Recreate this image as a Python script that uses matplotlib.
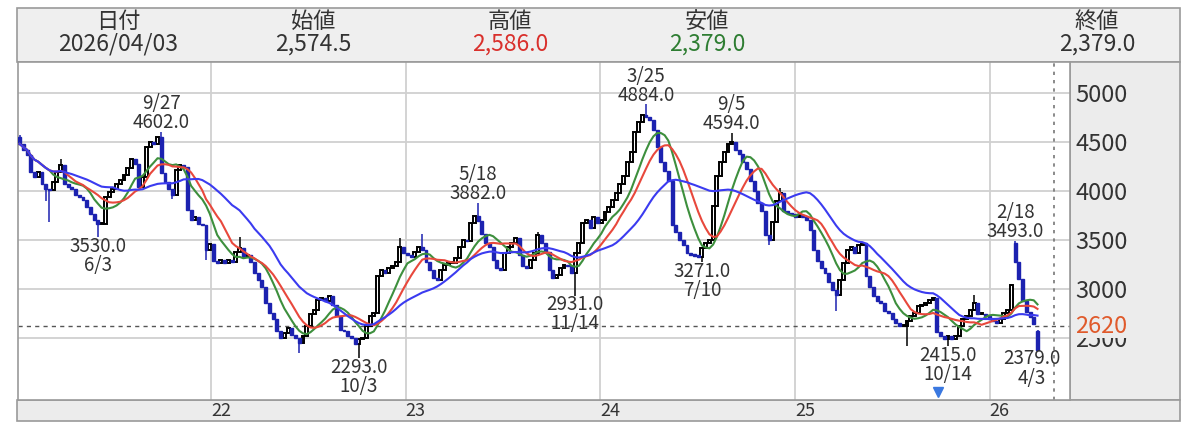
import numpy as np
import pandas as pd
import matplotlib
matplotlib.use('Agg')
import matplotlib.pyplot as plt
import matplotlib.dates as mdates
import matplotlib.transforms as mtrans
from matplotlib.patches import Rectangle

plt.rcParams['font.family'] = ['Noto Sans CJK JP', 'DejaVu Sans']

# weekly closes (weeks start on Monday), one list per year
close_2021 = [4480, 4415, 4365, 4195, 4140, 4195, 4075, 4025, 4010, 4090, 4195, 4260, 4075,
              4040, 4025, 3955, 3940, 3905, 3835, 3770, 3700, 3665, 3665, 3940, 3990, 4025,
              4075, 4110, 4160, 4230, 4330, 4280, 4040, 4145, 4450, 4500, 4480, 4550, 4180,
              4090, 4025, 3955, 4210, 4260, 4245, 3805, 3700, 3735, 3665, 3650, 3395, 3460]
close_2022 = [3290, 3260, 3300, 3265, 3300, 3280, 3380, 3415, 3330, 3350, 3280, 3160, 3095,
              3025, 2860, 2755, 2690, 2570, 2500, 2555, 2605, 2535, 2500, 2450, 2520, 2620,
              2740, 2790, 2890, 2910, 2875, 2925, 2840, 2720, 2585, 2570, 2520, 2500, 2435,
              2485, 2500, 2620, 2720, 2755, 3130, 3195, 3160, 3210, 3230, 3280, 3430, 3365]
close_2023 = [3350, 3330, 3380, 3430, 3400, 3280, 3195, 3110, 3095, 3195, 3245, 3265, 3265,
              3315, 3430, 3500, 3485, 3670, 3740, 3690, 3560, 3465, 3430, 3300, 3210, 3195,
              3365, 3430, 3465, 3515, 3345, 3230, 3210, 3300, 3365, 3550, 3465, 3380, 3195,
              3110, 3145, 3210, 3245, 3230, 3160, 3365, 3465, 3670, 3700, 3620, 3735, 3670]
close_2024 = [3700, 3785, 3840, 3905, 3975, 4075, 4150, 4300, 4400, 4600, 4700, 4780, 4750,
              4720, 4620, 4450, 4300, 4200, 4100, 3650, 3580, 3500, 3450, 3370, 3350, 3340,
              3330, 3420, 3470, 3500, 3850, 4150, 4300, 4400, 4480, 4500, 4420, 4380, 4300,
              4220, 4100, 4000, 3880, 3800, 3550, 3500, 3680, 3900, 3980, 3800, 3780, 3760, 3735]
close_2025 = [3750, 3735, 3700, 3600, 3395, 3290, 3210, 3160, 3070, 2990, 2935, 3090, 3260,
              3395, 3430, 3365, 3450, 3465, 3130, 3025, 2925, 2875, 2860, 2775, 2755, 2690,
              2655, 2620, 2620, 2670, 2720, 2755, 2825, 2840, 2860, 2890, 2910, 2560, 2520,
              2485, 2520, 2485, 2520, 2620, 2690, 2720, 2790, 2860, 2740, 2740, 2720, 2690]
close_2026 = [2670, 2655, 2690, 2755, 2790, 3045, 3280, 3100, 2880, 2760, 2710, 2640, 2379]
first_week = '2021-01-04'
first_open = 4550

open_dates = ['2026-02-16', '2026-03-30']
open_values = [3470, 2574.5]
high_dates = ['2021-01-04', '2021-03-22', '2021-09-27', '2022-02-21', '2022-12-19',
              '2023-01-30', '2023-05-15', '2023-09-04', '2024-03-25', '2024-09-02',
              '2024-12-02', '2025-12-01', '2026-02-16', '2026-03-30']
high_values = [4570, 4330, 4602, 3530, 3520, 3560, 3882, 3580, 4884, 4594, 4030, 2940,
               3493, 2586]
low_dates = ['2021-02-22', '2021-03-01', '2021-05-31', '2021-10-18', '2021-12-20', '2022-06-13',
             '2022-10-03', '2023-11-13', '2024-07-08', '2024-11-11', '2025-03-17', '2025-07-28',
             '2025-10-13', '2026-03-30']
low_values = [3900, 3680, 3530, 3920, 3300, 2350, 2293, 2931, 3271, 3450, 2780, 2420,
              2415, 2379]

# labelled highs / lows: (top line, bottom line, week, side)
notes = [('9/27', '4602.0', '2021-09-27', 'high'), ('3530.0', '6/3', '2021-05-31', 'low'),
         ('2293.0', '10/3', '2022-10-03', 'low'), ('5/18', '3882.0', '2023-05-15', 'high'),
         ('2931.0', '11/14', '2023-11-13', 'low'), ('3/25', '4884.0', '2024-03-25', 'high'),
         ('3271.0', '7/10', '2024-07-08', 'low'), ('9/5', '4594.0', '2024-09-02', 'high'),
         ('2415.0', '10/14', '2025-10-13', 'low'), ('2/18', '3493.0', '2026-02-16', 'high'),
         ('2379.0', '4/3', '2026-03-30', 'low')]
event_date = '2025-09-26'
ref_price = 2620
ma_windows = [9, 13, 26]
ma_colors = ['#3d8f3d', '#e8483c', '#3b3bf0']

header_labels = ['日付', '始値', '高値', '安値', '終値']
header_values = ['2026/04/03', '2,574.5', '2,586.0', '2,379.0', '2,379.0']
header_colors = ['#333333', '#333333', '#d9302c', '#2e7d32', '#333333']
header_x = [118, 313, 510, 707, 1097]

year_ticks = ['2022-01-01', '2023-01-01', '2024-01-01', '2025-01-01', '2026-01-01']
year_labels = ['22', '23', '24', '25', '26']
price_ticks = [2500, 3000, 3500, 4000, 4500, 5000]

# build the weekly series
closes = pd.Series(close_2021 + close_2022 + close_2023 + close_2024 + close_2025 + close_2026,
                   index=pd.date_range(first_week, periods=274, freq='7D'), dtype=float)
opens = closes.shift(1).fillna(first_open)
opens[pd.to_datetime(open_dates)] = open_values
highs = np.maximum(opens, closes)
lows = np.minimum(opens, closes)
highs[pd.to_datetime(high_dates)] = high_values
lows[pd.to_datetime(low_dates)] = low_values
xs = mdates.date2num(closes.index) + 2

W, H = 1199, 426
fig = plt.figure(figsize=(W / 100, H / 100), dpi=100)

def px_rect(x0, y0, x1, y1, **kw):
    fig.add_artist(Rectangle((x0 / W, 1 - y1 / H), (x1 - x0) / W, (y1 - y0) / H,
                             transform=fig.transFigure, zorder=-1, **kw))

px_rect(17, 8, 1180, 62, fc='#efefef', ec='#9a9a9a', lw=1.2)
px_rect(1070, 62, 1180, 400, fc='#ececec', ec='#9a9a9a', lw=1.2)
px_rect(17, 400, 1180, 421, fc='#ececec', ec='#9a9a9a', lw=1.2)

for lab, val, col, hx in zip(header_labels, header_values, header_colors, header_x):
    fig.text(hx / W, 1 - 21 / H, lab, ha='center', va='center', fontsize=16, color='#333333')
    fig.text(hx / W, 1 - 44 / H, val, ha='center', va='center', fontsize=16.5, color=col)

ax = fig.add_axes([18 / W, 1 - 400 / H, 1052 / W, 338 / H])
ax.set_xlim(mdates.datestr2num('2021-01-03'), mdates.datestr2num('2026-06-01'))
ax.set_ylim(1867, 5316)

ax.set_yticks(price_ticks)
ax.set_xticks(mdates.datestr2num(year_ticks))
ax.set_xticklabels(year_labels, ha='left')
ax.grid(True, color='#d0d0d0', lw=1.3)
ax.set_axisbelow(True)
ax.yaxis.tick_right()
ax.tick_params(axis='y', length=0, pad=4, labelsize=17, labelcolor='#333333')
ax.tick_params(axis='x', length=0, pad=1.5, labelsize=13, labelcolor='#333333')
for s in ax.spines.values():
    s.set_color('#9a9a9a')
    s.set_linewidth(1.2)

ax.axhline(ref_price, color='#555555', ls=(0, (3, 3)), lw=1)
ax.axvline(mdates.datestr2num('2026-05-02'), color='#777777', ls=(0, (2, 3)), lw=1.2)
tr = mtrans.blended_transform_factory(ax.transAxes, ax.transData)
ax.text(1 + 5 / 1052, ref_price, str(ref_price), transform=tr, fontsize=17, color='#e05a2b',
        va='center', ha='left', bbox=dict(fc='#ececec', ec='none', pad=0.5), zorder=7)

# candles: hollow black when up, solid blue when down
up = closes.values >= opens.values
body_lo = np.minimum(opens, closes)
body_h = np.maximum(np.abs(closes - opens), 12)
ax.vlines(xs[up], lows[up], highs[up], color='black', lw=1.1, zorder=3)
ax.vlines(xs[~up], lows[~up], highs[~up], color='#1c22b0', lw=1.1, zorder=3)
ax.bar(xs[up], body_h[up], bottom=body_lo[up], width=5.5, color='white', edgecolor='black',
       lw=1.4, zorder=4)
ax.bar(xs[~up], body_h[~up], bottom=body_lo[~up], width=5.5, color='#1c22b0',
       edgecolor='#1c22b0', lw=1.0, zorder=4)

for win, col in zip(ma_windows, ma_colors):
    ax.plot(xs, closes.rolling(win, min_periods=1).mean(), color=col, lw=1.5, zorder=5)

for top, bottom, wk, side in notes:
    d = pd.Timestamp(wk)
    xv = mdates.date2num(d) + 2
    dx = -4 if wk == '2026-03-30' else 0
    if side == 'high':
        ax.annotate(top + '\n' + bottom, (xv, highs[d]), xytext=(dx, -1), textcoords='offset points',
                    ha='center', va='bottom', fontsize=13.5, color='#333333', linespacing=0.88,
                    zorder=6)
    else:
        ax.annotate(top + '\n' + bottom, (xv, lows[d]), xytext=(dx, 1), textcoords='offset points',
                    ha='center', va='top', fontsize=13.5, color='#333333', linespacing=0.88,
                    zorder=6)

trx = mtrans.blended_transform_factory(ax.transData, ax.transAxes)
ax.plot(mdates.datestr2num(event_date), 8 / 338, marker='v', color='#3a78e0', ms=7,
        transform=trx, clip_on=False)

fig.savefig('out.png', dpi=100)
